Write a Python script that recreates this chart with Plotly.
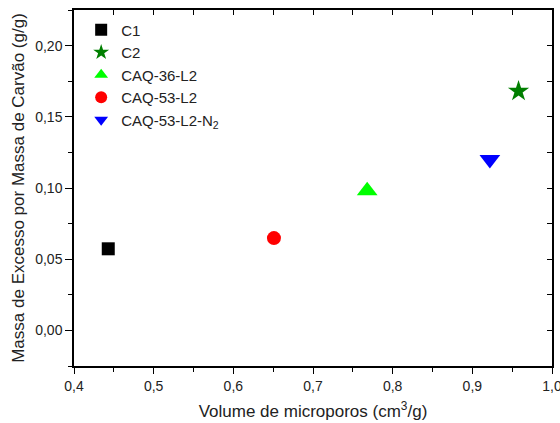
import plotly.graph_objects as go

names = ["C1", "C2", "CAQ-36-L2", "CAQ-53-L2", "CAQ-53-L2-N<sub>2</sub>"]
x_vals = [0.443, 0.958, 0.768, 0.651, 0.922]
y_vals = [0.0573, 0.168, 0.098, 0.0648, 0.120]
colors = ["#000000", "#007f00", "#00ff00", "#ff0000", "#0000ff"]
symbols = ["square", "star", "triangle-up", "circle", "triangle-down"]
sizes = [13, 16, 18, 14, 18]

FONT = "Liberation Sans, Arial, sans-serif"

fig = go.Figure()
for n, xv, yv, c, s, sz in zip(names, x_vals, y_vals, colors, symbols, sizes):
    fig.add_trace(go.Scatter(x=[xv], y=[yv], mode="markers", name=n,
                             marker=dict(color=c, symbol=s, size=sz, line=dict(width=0))))

axis_common = dict(showgrid=False, zeroline=False, showline=True, linecolor="black",
                   linewidth=1.5, tickcolor="black", tickwidth=1.2, automargin=False,
                   tickfont=dict(family=FONT, size=14, color="#222"))

fig.update_layout(
    width=560, height=423,
    margin=dict(l=74, r=8, t=10, b=57, autoexpand=False),
    paper_bgcolor="white", plot_bgcolor="white",
    separators=",.",
    font=dict(family=FONT, color="#222"),
    xaxis=dict(range=[0.4, 1.0], dtick=0.1, tick0=0.4, tickformat=".1f",
               ticks="outside", ticklen=6, ticklabeloverflow="allow",
               minor=dict(ticks="outside", ticklen=4, dtick=0.05, tickcolor="black"),
               title=dict(text="Volume de microporos (cm<sup>3</sup>/g)",
                          font=dict(family=FONT, size=17, color="#222"), standoff=13),
               **axis_common),
    yaxis=dict(range=[-0.025, 0.225], dtick=0.05, tick0=0, tickformat=".2f",
               ticks="outside", ticklen=7, ticklabeloverflow="allow",
               minor=dict(ticks="outside", ticklen=4, dtick=0.025, tickcolor="black"),
               title=dict(text="Massa de Excesso por Massa de Carvão (g/g)",
                          font=dict(family=FONT, size=17, color="#222"), standoff=6),
               **axis_common),
    xaxis2=dict(range=[0.4, 1.0], overlaying="x", side="top", showgrid=False, zeroline=False,
                showline=True, linecolor="black", linewidth=1.5, ticks="inside", ticklen=5,
                tickcolor="black", tickwidth=1.2, dtick=0.05, tick0=0.4, showticklabels=False,
                automargin=False),
    yaxis2=dict(range=[-0.025, 0.225], overlaying="y", side="right", showgrid=False, zeroline=False,
                showline=True, linecolor="black", linewidth=1.5, ticks="inside", ticklen=5,
                tickcolor="black", tickwidth=1.2, dtick=0.025, tick0=0, showticklabels=False,
                automargin=False),
    legend=dict(x=0.015, y=0.99, xanchor="left", yanchor="top", bgcolor="rgba(0,0,0,0)",
                font=dict(family=FONT, size=15, color="#222"), tracegroupgap=0,
                itemsizing="constant"),
    showlegend=True,
)
# invisible trace to anchor secondary axes
fig.add_trace(go.Scatter(x=[None], y=[None], xaxis="x2", yaxis="y2", showlegend=False,
                         hoverinfo="skip"))

fig.write_html("out.html")
